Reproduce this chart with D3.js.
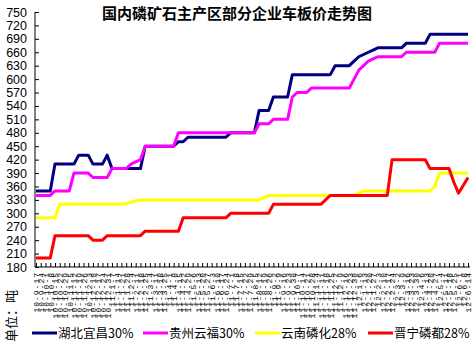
<!DOCTYPE html>
<html><head><meta charset="utf-8">
<script src="https://cdn.jsdelivr.net/npm/d3@7"></script>
<style>
body{margin:0;background:#fff;}
svg{display:block;}
</style></head>
<body>
<svg id="c" width="473" height="347"></svg>
<script>
const title = "国内磷矿石主产区部分企业车板价走势图";
const yAxisTitle = "单位：吨";
const yTicks = [180,210,240,270,300,330,360,390,420,450,480,510,540,570,600,630,660,690,720,750];
const dates = [
"10-9-17","10-9-24","10-10-1","10-10-8","10-10-15","10-10-22","10-10-29","10-11-5","10-11-12","10-11-19","10-11-26","10-12-3","10-12-10","10-12-17","10-12-24","10-12-31",
"11-1-7","11-1-14","11-1-21","11-1-28","11-2-4","11-2-11","11-2-18","11-2-25","11-3-4","11-3-11","11-3-18","11-3-25","11-4-1","11-4-8","11-4-15","11-4-22","11-4-29",
"11-5-6","11-5-13","11-5-20","11-5-27","11-6-3","11-6-10","11-6-17","11-6-24","11-7-1","11-7-8","11-7-15","11-7-22","11-7-29","11-8-5","11-8-12","11-8-19","11-8-26",
"11-9-2","11-9-9","11-9-16","11-9-23","11-9-30","11-10-7","11-10-14","11-10-21","11-10-28","11-11-4","11-11-11","11-11-18","11-11-25","11-12-2","11-12-9","11-12-16","11-12-23","11-12-30",
"12-1-6","12-1-13","12-1-20","12-1-27","12-2-3","12-2-10","12-2-17","12-2-24","12-3-2","12-3-9","12-3-16","12-3-23","12-3-30","12-4-6","12-4-13","12-4-20","12-4-27",
"12-5-4","12-5-11","12-5-18","12-5-25","12-6-1","12-6-8","12-6-14"];
const seriesNames = ["湖北宜昌30%","贵州云福30%","云南磷化28%","晋宁磷都28%"];
const seriesColors = ["#000080","#FF00FF","#FFFF00","#FF0000"];
const hubei = [350,350,350,350, 410,410,410,410,410, 430,430,430, 410,410,410, 430,
 400,400,400,400,400,400,400, 450,450,450,450,450,450,450, 460,460,
 470,470,470,470,470,470,470,470,470, 480,480,480,480,480,480, 530,530,530, 560,560,560,560,
 610,610,610,610,610,610,610,610,610, 630,630,630,630, 640,650,655,660,665,
 670,670,670,670,670,670, 680,680,680,680,680, 700,700,700,700,700,700,700,700,700];
const guizhou = [340,340,340,340, 350,350,350,350, 390,390,390,390, 380,380,380,380,
 400,400,400,400, 410,415,420, 450,450,450,450,450,450,450,
 480,480,480,480,480,480,480,480,480,480,480,480,480,480,480,480,480,
 500,500,500, 510,510,510,510, 560, 570,570,570, 580,580,580,580,580,580,580,580,580,
 600,620,630,640,645, 650,650,650,650,650,650, 660,660,660,660,660,660,660, 680,680,680,680,680,680,680];
const yunnan = [290,290,290,290,290, 320,320,320,320,320,320,320,320,320,320,320,320,320,320,
 322,325,328, 330,330,330,330,330,330,330,330,330,330,330,330,330,330,330,330,330,330,330,330,330,330,330,330,330,330,
 335, 340,340,340,340,340,340,340,340,340,340,340,340,340,340,340,340,340,340,340,
 345, 350,350,350,350,350,350,350,350,350,350,350,350,350,350,350, 360, 390,390,390,390,390,390,390];
const jinning = [200,200,200,200, 250,250,250,250,250,250,250,250, 240,240,240,
 250,250,250,250,250,250,250,250, 260,260,260,260,260,260,260,260,
 290,290,290,290,290,290,290,290,290,290, 300,300,300,300,300,300,300,300,300,
 320,320,320,320,320,320,320,320,320,320,320, 330, 340,340,340,340,340,340,340,340,340,340,340,340,340,
 420,420,420,420,420,420,420,420, 400,400,400,400,400, 370,345,362,380];
const allSeries = [hubei, guizhou, yunnan, jinning];

const svg = d3.select("#c");
const x = d3.scalePoint().domain(dates).range([36, 468]);
const y = d3.scaleLinear().domain([180, 750]).range([267, 12]);

// y axis
const ya = svg.append("g").attr("transform","translate(35,0)")
  .call(d3.axisLeft(y).tickValues(yTicks).tickSize(-4).tickSizeOuter(0).tickPadding(8));
ya.select(".domain").attr("d", `M0,${y(750)}V${y(180)}`);
ya.selectAll("line").attr("stroke","#000");
ya.selectAll("text").attr("font-family","Liberation Sans, Arial, sans-serif").attr("font-size","12.5px").attr("fill","#000");

// x axis
const xa = svg.append("g").attr("transform",`translate(0,${y(180)})`)
  .call(d3.axisBottom(x).tickSize(-4).tickSizeOuter(0).tickPadding(0));
xa.select(".domain").attr("d","M35,0H470");
xa.selectAll("line").attr("stroke","#000");
xa.selectAll("text")
  .attr("transform","rotate(-90)")
  .attr("x",-5).attr("y",0).attr("dy","0.35em")
  .attr("text-anchor","end")
  .attr("font-family","Liberation Mono, monospace").attr("font-size","8px")
  .attr("letter-spacing","1px").attr("fill","#000");

// lines
const line = d3.line().x((d,i)=>x(dates[i])).y(d=>y(d));
allSeries.forEach((s,k)=>{
  svg.append("path").datum(s).attr("d",line).attr("fill","none")
    .attr("stroke",seriesColors[k]).attr("stroke-width",3).attr("stroke-linejoin","round");
});

// title
svg.append("text").attr("x",237).attr("y",19).attr("text-anchor","middle")
  .attr("font-family","Noto Sans CJK SC, sans-serif").attr("font-weight","bold").attr("font-size","15px")
  .text(title);

// y axis title
svg.append("text").attr("transform","translate(16,316) rotate(-90)").attr("text-anchor","middle")
  .attr("font-family","Noto Sans CJK SC, sans-serif").attr("font-size","13px").text(yAxisTitle);

// legend
const legX = [32, 143, 255, 368];
seriesNames.forEach((n,k)=>{
  const g = svg.append("g").attr("transform",`translate(${legX[k]},333)`);
  g.append("line").attr("x1",0).attr("x2",25).attr("y1",0).attr("y2",0)
    .attr("stroke",seriesColors[k]).attr("stroke-width",3);
  g.append("text").attr("x",26).attr("y",5).attr("font-family","Noto Sans CJK SC, sans-serif")
    .attr("font-size","12.5px").text(n);
});
</script>
</body></html>
